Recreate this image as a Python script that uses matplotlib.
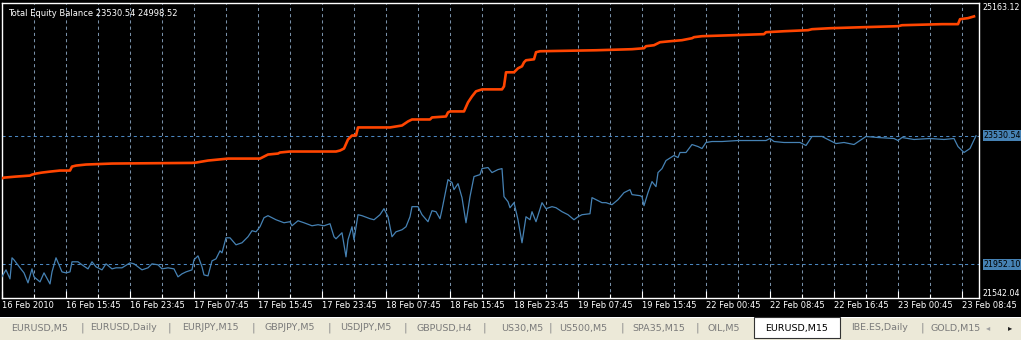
import matplotlib
matplotlib.use("Agg")
import matplotlib.pyplot as plt
from matplotlib.patches import Rectangle
from matplotlib.transforms import blended_transform_factory

# equity curve (bar index, value)
equity_bars = [0, 2, 4, 5, 6, 9, 11, 13, 15, 16, 19, 21, 24, 25, 27, 30, 32, 34, 35, 38,
               40, 43, 45, 47, 50, 52, 55, 57, 60, 64, 66, 70, 73, 75, 78, 80, 83, 86, 88, 90,
               92, 95, 96, 98, 100, 101, 103, 105, 107, 109, 110, 112, 114, 117, 120, 123, 125, 127, 129, 131,
               133, 137, 141, 144, 145, 148, 151, 155, 158, 161, 164, 166, 167, 170, 172, 173, 175, 176, 178, 180,
               184, 186, 189, 191, 193, 195, 197, 200, 202, 204, 205, 208, 210, 213, 215, 217, 219, 220, 223, 225,
               226, 228, 230, 232, 234, 236, 239, 240, 243, 245, 248, 250, 251, 253, 254, 256, 258, 260, 262, 264,
               265, 267, 270, 272, 275, 277, 280, 283, 286, 288, 290, 294, 295, 297, 300, 302, 305, 308, 311, 314,
               315, 319, 320, 321, 323, 325, 327, 328, 330, 332, 336, 338, 339, 342, 345, 348, 350, 352, 355, 360,
               368, 382, 384, 386, 391, 399, 402, 405, 410, 413, 415, 417, 421, 426, 429, 432, 438, 446, 448, 450,
               456, 464, 471, 476, 478, 481, 484, 487]
equity = [21799, 21882, 21771, 22030, 22005, 21907, 21845, 21722, 21894, 21796, 21734, 21845, 21709, 21857, 22030, 21857, 21845, 21857, 21981, 21981,
          21944, 21894, 21981, 21919, 21882, 21956, 21894, 21907, 21907, 21968, 21956, 21882, 21907, 21956, 21944, 21894, 21907, 21894, 21796, 21833,
          21857, 21882, 22005, 22054, 21919, 21820, 21808, 21993, 22017, 22116, 22091, 22276, 22276, 22190, 22215, 22289, 22363, 22350, 22412, 22523,
          22548, 22498, 22461, 22474, 22424, 22486, 22461, 22424, 22437, 22424, 22449, 22289, 22264, 22338, 22042, 22252, 22412, 22252, 22560, 22548,
          22511, 22498, 22560, 22634, 22535, 22289, 22350, 22375, 22412, 22535, 22659, 22659, 22560, 22474, 22609, 22597, 22511, 22622, 22992, 22955,
          22868, 22942, 22770, 22461, 22782, 23029, 23053, 23127, 23140, 23078, 23115, 23127, 22782, 22720, 22646, 22708, 22498, 22215, 22535, 22498,
          22597, 22474, 22708, 22634, 22659, 22646, 22597, 22560, 22498, 22535, 22560, 22572, 22770, 22745, 22708, 22708, 22683, 22745, 22831, 22868,
          22807, 22794, 22782, 22671, 22831, 22967, 22905, 23078, 23127, 23226, 23288, 23263, 23325, 23325, 23423, 23398, 23374, 23448, 23460, 23460,
          23472, 23472, 23497, 23460, 23448, 23448, 23411, 23522, 23522, 23485, 23460, 23435, 23448, 23423, 23472, 23522, 23509, 23497, 23472, 23509,
          23485, 23497, 23485, 23497, 23398, 23325, 23374, 23530.54]

# balance curve
balance_bars = [0, 1, 7, 14, 15, 17, 20, 24, 29, 34, 35, 37, 42, 55, 95, 97, 103, 108, 113, 129,
                131, 133, 138, 139, 144, 167, 169, 171, 173, 175, 177, 178, 194, 200, 203, 205, 214, 215, 222, 223,
                224, 231, 233, 235, 237, 240, 250, 251, 252, 256, 258, 260, 261, 262, 266, 267, 269, 297, 315, 321,
                322, 326, 329, 334, 340, 345, 346, 350, 365, 381, 382, 391, 403, 405, 414, 431, 448, 450, 470, 478,
                479, 483, 486]
balance = [23008, 23016, 23029, 23041, 23053, 23066, 23078, 23090, 23103, 23103, 23152, 23164, 23177, 23189, 23197, 23201, 23226, 23238, 23250, 23250,
           23275, 23300, 23312, 23325, 23337, 23337, 23349, 23374, 23485, 23534, 23534, 23633, 23633, 23657, 23707, 23731, 23731, 23756, 23768, 23818,
           23830, 23830, 23941, 24015, 24077, 24101, 24101, 24138, 24311, 24311, 24360, 24385, 24434, 24459, 24471, 24558, 24570, 24582, 24595, 24607,
           24632, 24644, 24681, 24693, 24706, 24730, 24743, 24755, 24767, 24780, 24804, 24816, 24829, 24841, 24853, 24866, 24878, 24890, 24903, 24903,
           24964, 24977, 24998.52]

time_labels = ["16 Feb 2010", "16 Feb 15:45", "16 Feb 23:45", "17 Feb 07:45", "17 Feb 15:45",
               "17 Feb 23:45", "18 Feb 07:45", "18 Feb 15:45", "18 Feb 23:45", "19 Feb 07:45",
               "19 Feb 15:45", "22 Feb 00:45", "22 Feb 08:45", "22 Feb 16:45", "23 Feb 00:45",
               "23 Feb 08:45"]

price_top = 25163.12
price_bottom = 21542.04
level_lines = [23530.54, 21952.10]

tabs = ["EURUSD,M5", "EURUSD,Daily", "EURJPY,M15", "GBPJPY,M5", "USDJPY,M5", "GBPUSD,H4",
        "US30,M5", "US500,M5", "SPA35,M15", "OIL,M5", "EURUSD,M15", "IBE.ES,Daily", "GOLD,M15"]
active_tab = "EURUSD,M15"

W, H = 1021, 340
fig = plt.figure(figsize=(W / 100, H / 100), dpi=100, facecolor="black")
ax = fig.add_axes([2 / W, 1 - 297.5 / H, 977 / W, 294.5 / H], facecolor="black")

ax.set_xlim(0, 488.5)
ax.set_ylim(price_bottom, price_top)

for b in range(16, 489, 16):
    ax.axvline(b, color="#7890a8", lw=0.75, ls=(0, (3, 3)), zorder=1)
for lv in level_lines:
    ax.axhline(lv, color="#4a86c0", lw=0.75, ls=(0, (3, 3)), zorder=1)

ax.plot(equity_bars, equity, color="#4682b4", lw=0.9, zorder=3)
ax.plot(balance_bars, balance, color="#ff4500", lw=1.9, zorder=4)

for s in ax.spines.values():
    s.set_color("white")
    s.set_linewidth(1)

fs = 6.0
ax.set_yticks([])
ax.set_xticks(range(0, 16 * 32, 32))
ax.set_xticklabels(time_labels, ha="left", color="white", fontsize=fs)
ax.set_xticks(range(16, 489, 32), minor=True)
ax.tick_params(axis="x", which="major", colors="white", length=5, width=0.8, pad=2.5,
               direction="in")
ax.tick_params(axis="x", which="minor", colors="white", length=3, width=0.8, direction="in")
for t in ax.get_xticklabels():
    t.set_color("white")

ax.text(6 / 977, 1 - 10 / 294.5, "Total Equity Balance 23530.54 24998.52", transform=ax.transAxes,
        color="white", fontsize=fs, va="center", ha="left")

tr = blended_transform_factory(ax.transAxes, ax.transData)
rfs = 5.7
ax.text(1.004, price_top, "25163.12", transform=tr, color="white", fontsize=rfs,
        va="top", ha="left", clip_on=False)
ax.text(1.004, price_bottom, "21542.04", transform=tr, color="white", fontsize=rfs,
        va="bottom", ha="left", clip_on=False)
for lv in level_lines:
    ax.text(1.005, lv, f"{lv:.2f}", transform=tr, color="black", fontsize=rfs, va="center",
            ha="left", clip_on=False,
            bbox=dict(boxstyle="square,pad=0.12", fc="#4682b4", ec="none"))

# tab bar at the bottom
tab_h = 23 / H
fig.patches.append(Rectangle((0, 0), 1, tab_h, transform=fig.transFigure, fc="#ece9d8",
                             ec="none", zorder=0))
fig.patches.append(Rectangle((0, tab_h - 1 / H), 1, 1 / H, transform=fig.transFigure,
                             fc="#ffffff", ec="none", zorder=1))
tab_centers = [40, 123, 210, 290, 366, 444, 522, 583, 659, 724, 797, 880, 956]
separators = [82, 169, 253, 329, 405, 484, 550, 622, 697, 922]
fig.patches.append(Rectangle((754 / W, 2 / H), 86 / W, 21 / H, transform=fig.transFigure,
                             fc="white", ec="#333333", lw=0.8, zorder=2))
for name, cx in zip(tabs, tab_centers):
    fig.text(cx / W, 12 / H, name, ha="center", va="center", fontsize=6.8,
             color="black" if name == active_tab else "#7a7a7a", zorder=3)
for sx in separators:
    fig.text(sx / W, 12 / H, "|", ha="center", va="center", fontsize=8, color="#8a8a8a")
fig.text(988 / W, 12 / H, "◂", ha="center", va="center", fontsize=6, color="#a0a0a0")
fig.text(1010 / W, 12 / H, "▸", ha="center", va="center", fontsize=6, color="#202020")

fig.savefig("out.png", dpi=100, facecolor="black")
